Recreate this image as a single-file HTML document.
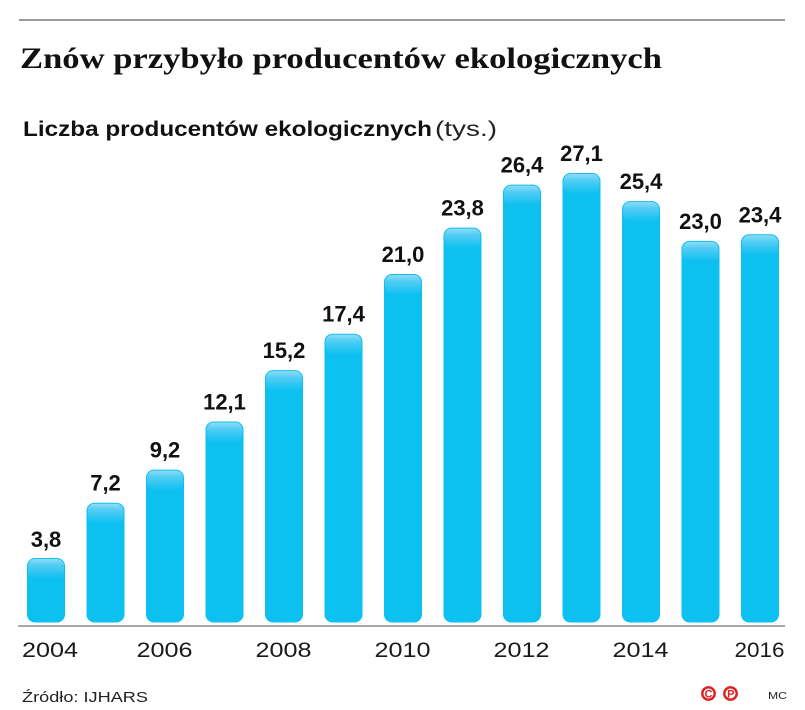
<!DOCTYPE html>
<html>
<head>
<meta charset="utf-8">
<style>
  html,body{margin:0;padding:0;background:#fff;}
  svg{display:block;}
</style>
</head>
<body>
<svg width="805" height="710" viewBox="0 0 805 710" xmlns="http://www.w3.org/2000/svg">
  <defs>
    <linearGradient id="gl" x1="0" y1="0" x2="0" y2="1">
      <stop offset="0" stop-color="#8fdcf7"/>
      <stop offset="0.3" stop-color="#55cdf4"/>
      <stop offset="1" stop-color="#0cc0f0"/>
    </linearGradient>
  </defs>
  <rect x="0" y="0" width="805" height="710" fill="#fff"/>
  <line x1="19" y1="20" x2="785" y2="20" stroke="#9a9a9a" stroke-width="2"/>
  <text x="20" y="68" font-family="Liberation Serif, serif" font-weight="bold" font-size="30" fill="#111" textLength="642" lengthAdjust="spacingAndGlyphs">Znów przybyło producentów ekologicznych</text>
  <text x="23" y="136" font-family="Liberation Sans, sans-serif" font-weight="bold" font-size="21" fill="#111" textLength="409" lengthAdjust="spacingAndGlyphs">Liczba producentów ekologicznych</text>
  <text x="435" y="136" font-family="Liberation Sans, sans-serif" font-size="21" fill="#222" textLength="62" lengthAdjust="spacingAndGlyphs">(tys.)</text>

  <g fill="#0cc0f0">
    <rect x="27" y="558.0" width="38" height="64.5" rx="8"/>
    <rect x="86.5" y="502.7" width="38" height="119.8" rx="8"/>
    <rect x="146" y="469.6" width="38" height="152.9" rx="8"/>
    <rect x="205.5" y="421.5" width="38" height="201.0" rx="8"/>
    <rect x="265" y="370.1" width="38" height="252.4" rx="8"/>
    <rect x="324.5" y="333.7" width="38" height="288.8" rx="8"/>
    <rect x="384" y="274.0" width="38" height="348.5" rx="8"/>
    <rect x="443.5" y="227.6" width="38" height="394.9" rx="8"/>
    <rect x="503" y="184.6" width="38" height="437.9" rx="8"/>
    <rect x="562.5" y="173.0" width="38" height="449.5" rx="8"/>
    <rect x="622" y="201.1" width="38" height="421.4" rx="8"/>
    <rect x="681.5" y="240.9" width="38" height="381.6" rx="8"/>
    <rect x="741" y="234.3" width="38" height="388.2" rx="8"/>
  </g>
  <g fill="url(#gl)">
    <rect x="28" y="559.0" width="36" height="20" rx="7"/>
    <rect x="87.5" y="503.7" width="36" height="20" rx="7"/>
    <rect x="147" y="470.6" width="36" height="20" rx="7"/>
    <rect x="206.5" y="422.5" width="36" height="20" rx="7"/>
    <rect x="266" y="371.1" width="36" height="20" rx="7"/>
    <rect x="325.5" y="334.7" width="36" height="20" rx="7"/>
    <rect x="385" y="275.0" width="36" height="20" rx="7"/>
    <rect x="444.5" y="228.6" width="36" height="20" rx="7"/>
    <rect x="504" y="185.6" width="36" height="20" rx="7"/>
    <rect x="563.5" y="174.0" width="36" height="20" rx="7"/>
    <rect x="623" y="202.1" width="36" height="20" rx="7"/>
    <rect x="682.5" y="241.9" width="36" height="20" rx="7"/>
    <rect x="742" y="235.3" width="36" height="20" rx="7"/>
  </g>

  <g font-family="Liberation Sans, sans-serif" font-weight="bold" font-size="22" fill="#111" text-anchor="middle">
    <text x="46" y="547">3,8</text>
    <text x="105.5" y="490.7">7,2</text>
    <text x="165" y="457.6">9,2</text>
    <text x="224.5" y="409.5">12,1</text>
    <text x="284" y="358.1">15,2</text>
    <text x="343.5" y="321.7">17,4</text>
    <text x="403" y="262.0">21,0</text>
    <text x="462.5" y="215.6">23,8</text>
    <text x="522" y="172.6">26,4</text>
    <text x="581.5" y="161.0">27,1</text>
    <text x="641" y="189.1">25,4</text>
    <text x="700.5" y="228.9">23,0</text>
    <text x="760" y="222.3">23,4</text>
  </g>

  <line x1="18" y1="626" x2="785" y2="626" stroke="#8a8a8a" stroke-width="1.5"/>

  <g font-family="Liberation Sans, sans-serif" font-size="21" fill="#1a1a1a" text-anchor="middle">
    <text x="50" y="657" textLength="56" lengthAdjust="spacingAndGlyphs">2004</text>
    <text x="164.5" y="657" textLength="56" lengthAdjust="spacingAndGlyphs">2006</text>
    <text x="283.5" y="657" textLength="56" lengthAdjust="spacingAndGlyphs">2008</text>
    <text x="402.5" y="657" textLength="56" lengthAdjust="spacingAndGlyphs">2010</text>
    <text x="521.5" y="657" textLength="56" lengthAdjust="spacingAndGlyphs">2012</text>
    <text x="640.5" y="657" textLength="56" lengthAdjust="spacingAndGlyphs">2014</text>
    <text x="759.5" y="657" textLength="50" lengthAdjust="spacingAndGlyphs">2016</text>
  </g>

  <text x="22" y="702" font-family="Liberation Sans, sans-serif" font-size="15" fill="#222" textLength="126" lengthAdjust="spacingAndGlyphs">Źródło:  IJHARS</text>

  <circle cx="708.5" cy="693.5" r="6.2" fill="none" stroke="#e02020" stroke-width="2.4"/>
  <text x="708.5" y="697.6" font-family="Liberation Sans, sans-serif" font-weight="bold" font-size="11" fill="#e02020" text-anchor="middle">C</text>
  <circle cx="730.5" cy="693.5" r="6.2" fill="none" stroke="#e02020" stroke-width="2.4"/>
  <text x="730.8" y="697.6" font-family="Liberation Sans, sans-serif" font-weight="bold" font-size="11" fill="#e02020" text-anchor="middle">P</text>
  <text x="768" y="699" font-family="Liberation Sans, sans-serif" font-size="10" fill="#222" textLength="19" lengthAdjust="spacingAndGlyphs">MC</text>
</svg>
</body>
</html>
